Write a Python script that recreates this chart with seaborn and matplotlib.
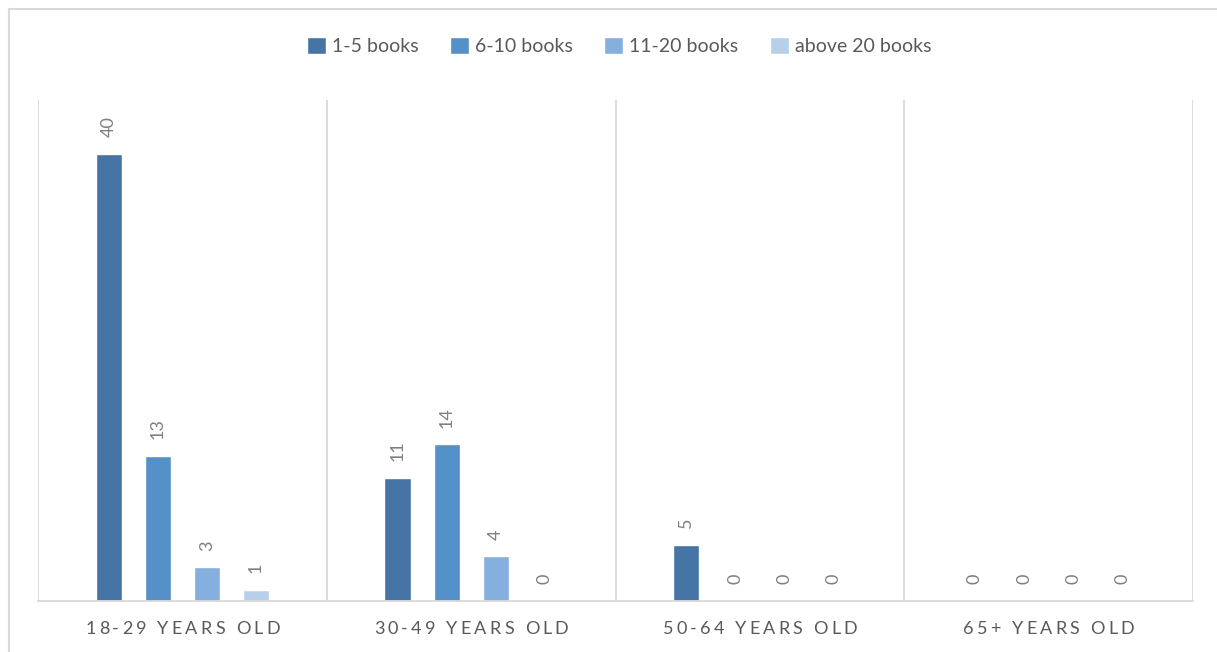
import matplotlib
matplotlib.use("Agg")
import matplotlib.pyplot as plt
from matplotlib.lines import Line2D
from matplotlib.font_manager import FontProperties
import seaborn as sns
import pandas as pd

# Survey: number of books read, by age group
age_groups = ["18-29 YEARS OLD", "30-49 YEARS OLD", "50-64 YEARS OLD", "65+ YEARS OLD"]
book_ranges = ["1-5 books", "6-10 books", "11-20 books", "above 20 books"]
counts_1_5 = [40, 11, 5, 0]
counts_6_10 = [13, 14, 0, 0]
counts_11_20 = [3, 4, 0, 0]
counts_above_20 = [1, 0, 0, 0]

colors = ["#4674A5", "#5590C8", "#85AFDC", "#B8CFEA"]

rows = []
for rng, vals in zip(book_ranges, [counts_1_5, counts_6_10, counts_11_20, counts_above_20]):
    for grp, v in zip(age_groups, vals):
        rows.append({"age": grp, "range": rng, "count": v})
df = pd.DataFrame(rows)

sns.set_style("white")
plt.rcParams["font.family"] = ["Lato", "DejaVu Sans"]

DPI = 100
fig = plt.figure(figsize=(12.17, 6.52), dpi=DPI)
ax = fig.add_axes([38 / 1217, 1 - 601 / 652, (1193 - 38) / 1217, (601 - 100) / 652])

sns.barplot(data=df, x="age", y="count", hue="range", order=age_groups,
            hue_order=book_ranges, palette=colors, width=0.68, gap=0.47,
            saturation=1, ax=ax, legend=True)

ax.set_ylim(0, 44.8)
ax.set_xlim(-0.5, len(age_groups) - 0.5)

grid_c = "#D9D9D9"
for x in [i - 0.5 for i in range(len(age_groups) + 1)]:
    ax.axvline(x, color=grid_c, lw=1.3, zorder=0)

for side in ["top", "right", "left"]:
    ax.spines[side].set_visible(False)
ax.spines["bottom"].set_color(grid_c)
ax.spines["bottom"].set_linewidth(1.3)

ax.set_yticks([])
ax.set_xlabel("")
ax.set_ylabel("")
ax.set_xticks(range(len(age_groups)))
ax.set_xticklabels([])
ax.tick_params(axis="x", length=0)

# category labels with wide letter tracking
tick_fs = 13
tick_prop = FontProperties(family=["Lato", "DejaVu Sans"], size=tick_fs)
renderer = fig.canvas.get_renderer()


def text_w(s):
    if not s:
        return 0.0
    w, _, _ = renderer.get_text_width_height_descent(s.replace(" ", "\u00a0"), tick_prop, ismath=False)
    return w * 72 / DPI


tracking = 2.3  # points between letters
for i, lab in enumerate(age_groups):
    starts = [text_w(lab[:k + 1]) - text_w(lab[k]) for k in range(len(lab))]
    total = text_w(lab) + tracking * (len(lab) - 1)
    for k, ch in enumerate(lab):
        if ch == " ":
            continue
        ax.annotate(ch, xy=(i, 0), xycoords=ax.get_xaxis_transform(),
                    xytext=(starts[k] + tracking * k - total / 2, -14.5),
                    textcoords="offset points", ha="left", va="top",
                    fontproperties=tick_prop, color="#595959", annotation_clip=False)

for cont in ax.containers:
    ax.bar_label(cont, fmt="%g", rotation=90, padding=12, fontsize=13, color="#7F7F7F")

handles, labels = ax.get_legend_handles_labels()
ax.get_legend().remove()
fig.legend(handles, labels, loc="center", bbox_to_anchor=(619 / 1217, 1 - 46 / 652),
           ncol=4, frameon=False, fontsize=14, handlelength=1.0, handleheight=1.0,
           handletextpad=0.3, columnspacing=1.6, labelcolor="#595959")

# outer chart border (left and top edges)
bx, by = 8.5 / 1217, 1 - 8.5 / 652
fig.add_artist(Line2D([bx, bx], [0, by], transform=fig.transFigure, color=grid_c, lw=1.5))
fig.add_artist(Line2D([bx, 1], [by, by], transform=fig.transFigure, color=grid_c, lw=1.5))

fig.savefig("out.png", dpi=DPI)
